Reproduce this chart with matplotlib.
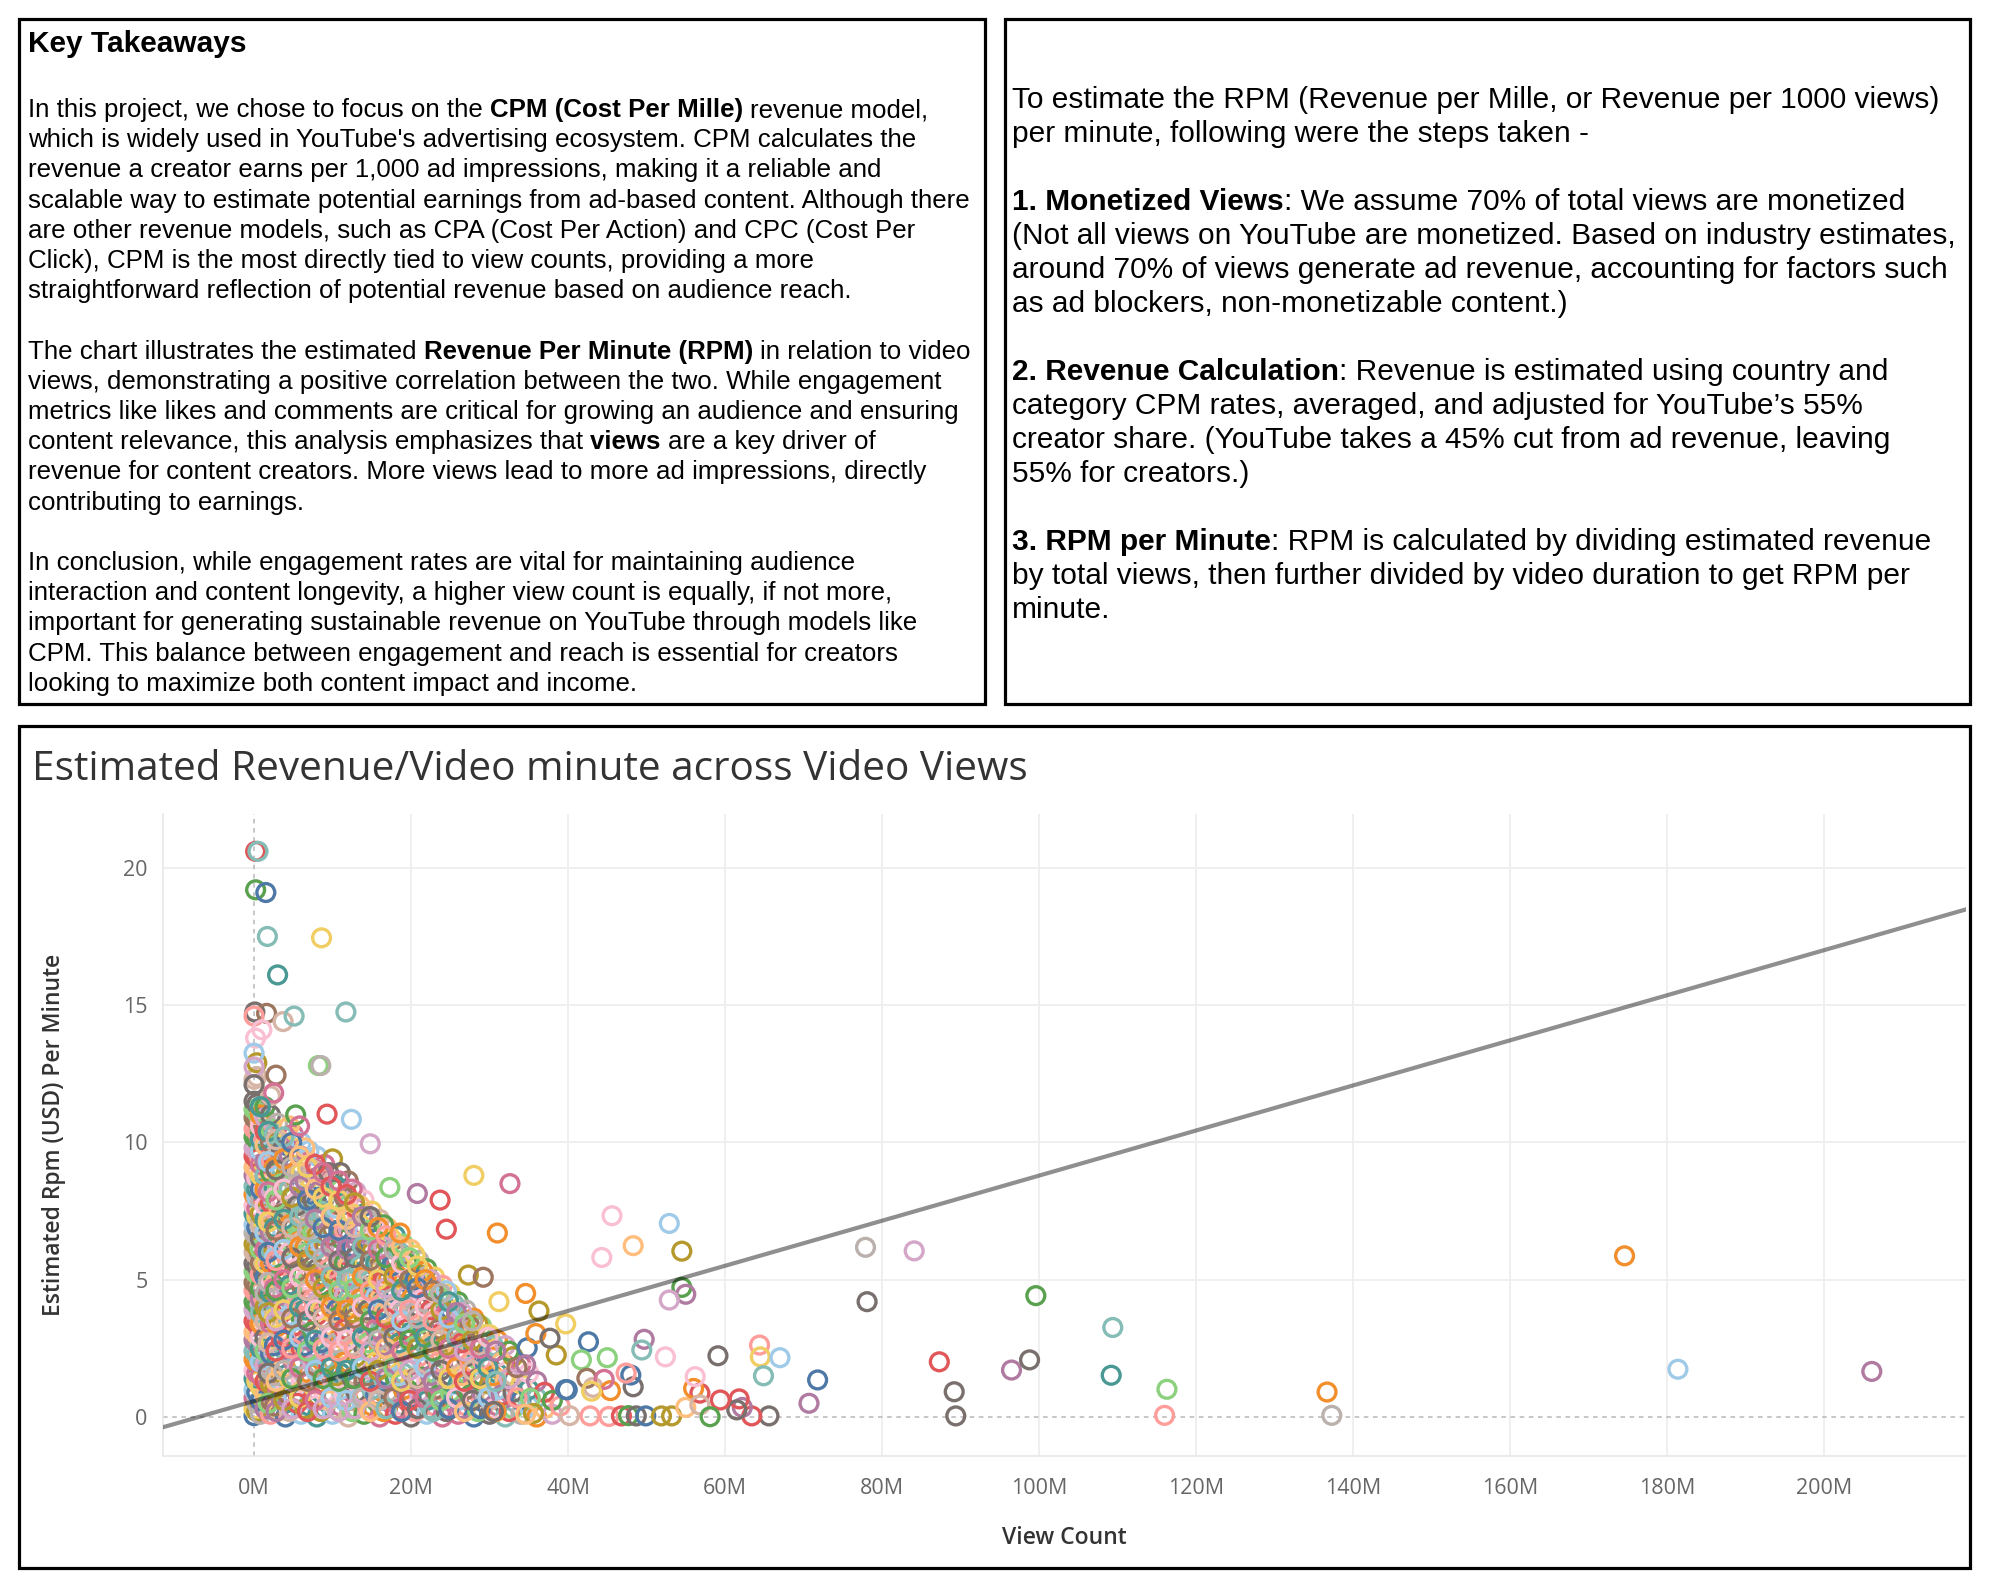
import matplotlib
matplotlib.use('Agg')
import matplotlib.pyplot as plt
from matplotlib.font_manager import FontProperties
from matplotlib.patches import Rectangle
from matplotlib.ticker import FuncFormatter

# ---- data (views in millions, estimated RPM per minute in USD) ----
# dense cluster, read column by column
col_views_m = [0.0, 0.35, 0.8, 1.4, 2.1, 3.0, 4.0, 5.0, 6.0, 7.0, 8.0, 9.0, 10.0,
               11.0, 12.0, 13.0, 14.0, 15.0, 16.0, 17.0, 18.0, 19.0, 20.0, 21.0,
               22.0, 23.0, 24.0, 25.0, 26.0, 27.0, 28.0, 29.0, 30.0, 31.0, 32.0,
               33.0, 34.0, 35.0, 36.0, 37.0, 38.0, 39.0]
col_rpm = [
    [0.05, 0.3, 0.7, 1.0, 1.4, 1.7, 2.1, 2.4, 2.8, 3.1, 3.5, 3.9, 4.2, 4.6, 4.9, 5.3, 5.6, 6.0,
     6.3, 6.7, 7.0, 7.4, 7.7, 8.1, 8.4, 8.8, 9.1, 9.5, 9.8, 10.2, 10.5, 10.9, 11.2, 11.5, 12.3],
    [0.2, 0.5, 0.9, 1.3, 1.6, 2.0, 2.3, 2.7, 3.0, 3.4, 3.8, 4.1, 4.5, 4.8, 5.2, 5.5, 5.9, 6.2,
     6.6, 6.9, 7.3, 7.6, 8.0, 8.3, 8.7, 9.0, 9.4, 9.7, 10.1, 10.4, 10.8, 11.1, 11.4, 12.4, 12.9],
    [0.1, 0.6, 1.1, 1.5, 2.0, 2.5, 2.9, 3.4, 3.8, 4.3, 4.7, 5.2, 5.6, 6.1, 6.5, 7.0, 7.4, 7.9,
     8.3, 8.8, 9.2, 9.7, 10.1, 10.6, 11.0, 11.3],
    [0.3, 0.8, 1.3, 1.9, 2.4, 2.9, 3.5, 4.0, 4.5, 5.1, 5.6, 6.1, 6.7, 7.2, 7.7, 8.3, 8.8, 9.3,
     9.9, 10.4, 10.9, 11.3],
    [0.1, 0.6, 1.2, 1.7, 2.3, 2.8, 3.4, 3.9, 4.5, 5.0, 5.6, 6.1, 6.7, 7.2, 7.8, 8.3, 8.9, 9.4,
     10.0, 10.5, 11.0, 11.7],
    [0.2, 0.9, 1.4, 2.1, 2.6, 3.3, 3.8, 4.4, 5.0, 5.5, 6.2, 6.7, 7.3, 7.9, 8.4, 9.0, 9.6, 10.1, 10.7],
    [0.0, 0.5, 1.2, 1.8, 2.4, 3.0, 3.5, 4.2, 4.7, 5.3, 5.9, 6.5, 7.1, 7.6, 8.2, 8.8, 9.3, 9.9, 10.5],
    [0.3, 0.8, 1.5, 2.0, 2.7, 3.3, 3.9, 4.4, 5.1, 5.7, 6.2, 6.9, 7.4, 8.0, 8.6, 9.1, 9.8, 10.3],
    [0.1, 0.7, 1.3, 1.9, 2.5, 3.1, 3.6, 4.3, 4.8, 5.4, 6.0, 6.6, 7.2, 7.7, 8.4, 8.9, 9.5, 10.0],
    [0.4, 1.0, 1.6, 2.2, 2.8, 3.4, 4.0, 4.6, 5.2, 5.8, 6.4, 6.9, 7.6, 8.1, 8.7, 9.3, 9.7],
    [0.0, 0.6, 1.2, 1.8, 2.5, 3.0, 3.7, 4.2, 4.9, 5.4, 6.1, 6.6, 7.3, 7.8, 8.5, 9.0, 9.5],
    [0.3, 0.9, 1.5, 2.1, 2.7, 3.3, 3.9, 4.5, 5.1, 5.7, 6.3, 6.9, 7.5, 8.1, 8.7, 9.2],
    [0.1, 0.7, 1.3, 1.9, 2.6, 3.1, 3.8, 4.3, 5.0, 5.5, 6.1, 6.8, 7.3, 7.9, 8.6, 9.4],
    [0.4, 1.0, 1.6, 2.3, 2.9, 3.5, 4.1, 4.7, 5.3, 6.0, 6.5, 7.2, 7.7, 8.3, 8.9],
    [0.0, 0.6, 1.2, 1.8, 2.4, 3.1, 3.6, 4.3, 4.9, 5.5, 6.1, 6.7, 7.3, 7.9, 8.6],
    [0.3, 0.9, 1.5, 2.2, 2.8, 3.4, 4.0, 4.6, 5.2, 5.9, 6.4, 7.0, 7.6, 8.2],
    [0.1, 0.7, 1.3, 1.9, 2.5, 3.2, 3.7, 4.4, 5.0, 5.6, 6.2, 6.8, 7.4, 7.9],
    [0.4, 1.0, 1.7, 2.3, 2.9, 3.5, 4.1, 4.8, 5.3, 6.0, 6.6, 7.1, 7.5],
    [0.0, 0.6, 1.2, 1.9, 2.5, 3.1, 3.7, 4.3, 4.9, 5.5, 6.1, 6.8, 7.2],
    [0.3, 0.9, 1.5, 2.1, 2.8, 3.4, 4.0, 4.6, 5.2, 5.8, 6.4, 6.9],
    [0.1, 0.7, 1.4, 2.0, 2.6, 3.2, 3.8, 4.5, 5.0, 5.7, 6.2, 6.6],
    [0.4, 1.0, 1.6, 2.3, 2.9, 3.5, 4.1, 4.7, 5.4, 5.9, 6.3],
    [0.0, 0.7, 1.3, 1.9, 2.5, 3.1, 3.8, 4.3, 5.0, 5.5, 6.1],
    [0.3, 0.9, 1.5, 2.2, 2.8, 3.4, 4.0, 4.6, 5.2, 5.7],
    [0.1, 0.6, 1.3, 1.9, 2.5, 3.1, 3.7, 4.3, 4.9, 5.4],
    [0.4, 1.0, 1.6, 2.2, 2.8, 3.4, 4.0, 4.7, 5.1],
    [0.0, 0.7, 1.3, 1.9, 2.5, 3.1, 3.7, 4.3, 4.8],
    [0.3, 0.9, 1.5, 2.1, 2.7, 3.3, 3.9, 4.5],
    [0.1, 0.6, 1.2, 1.8, 2.4, 3.0, 3.6, 4.2],
    [0.4, 1.0, 1.6, 2.2, 2.8, 3.5, 3.9],
    [0.0, 0.7, 1.3, 1.9, 2.5, 3.1, 3.6],
    [0.3, 0.9, 1.5, 2.1, 2.7, 3.3],
    [0.1, 0.6, 1.2, 1.8, 2.5, 3.0],
    [0.4, 1.0, 1.6, 2.2, 2.8],
    [0.0, 0.7, 1.3, 1.9, 2.6],
    [0.3, 0.9, 1.5, 2.2],
    [0.1, 0.6, 1.2, 1.9],
    [0.4, 1.0, 1.6],
    [0.0, 0.7, 1.3],
    [0.3, 0.9],
    [0.1, 0.6],
    [0.4],
]
# in-between columns of the same cluster
mid_views_m = [2.6, 3.5, 4.5, 5.5, 6.5, 7.5, 8.5, 9.5, 10.5, 11.5, 12.5, 13.5, 14.5, 15.5,
               16.5, 17.5, 18.5, 19.5, 20.5, 21.5, 22.5, 23.5, 24.5, 25.5, 26.5, 27.5,
               28.5, 29.5, 30.5, 31.5, 32.5, 33.5]
mid_rpm = [
    [0.4, 1.0, 1.5, 2.6, 3.6, 4.7, 5.8, 6.9, 8.0, 9.1, 10.3],
    [0.6, 1.7, 2.8, 3.9, 5.2, 6.3, 7.4, 8.5, 9.7],
    [0.2, 1.4, 2.5, 3.7, 4.8, 6.0, 7.0, 8.3, 9.5, 10.6],
    [0.5, 1.8, 2.9, 4.1, 5.3, 6.5, 7.7, 8.9],
    [0.3, 1.5, 2.6, 3.9, 5.0, 6.2, 7.4, 8.6, 9.8],
    [0.7, 1.9, 3.1, 4.3, 5.5, 6.7, 7.9, 9.0],
    [0.2, 1.4, 2.7, 3.9, 5.1, 6.3, 7.5, 8.8],
    [0.6, 1.8, 3.0, 4.2, 5.4, 6.6, 7.8, 8.9],
    [0.3, 1.5, 2.7, 3.9, 5.1, 6.3, 7.6, 8.4],
    [0.8, 2.0, 3.2, 4.4, 5.6, 6.8, 8.0],
    [0.2, 1.4, 2.6, 3.8, 5.0, 6.2, 7.4, 8.3],
    [0.7, 1.9, 3.1, 4.3, 5.5, 6.7, 7.7],
    [0.3, 1.5, 2.7, 3.9, 5.1, 6.3, 7.2],
    [0.8, 2.0, 3.2, 4.4, 5.6, 6.9],
    [0.2, 1.4, 2.6, 3.8, 5.0, 6.2, 7.0],
    [0.7, 1.9, 3.1, 4.3, 5.5, 6.5],
    [0.3, 1.5, 2.7, 3.9, 5.1, 6.0],
    [0.8, 2.0, 3.2, 4.4, 5.6],
    [0.2, 1.4, 2.6, 3.8, 5.0, 5.9],
    [0.7, 1.9, 3.1, 4.3, 5.3],
    [0.3, 1.5, 2.7, 3.9, 5.0],
    [0.8, 2.0, 3.2, 4.4],
    [0.2, 1.4, 2.6, 3.8, 4.6],
    [0.7, 1.9, 3.1, 4.1],
    [0.3, 1.5, 2.7, 3.8],
    [0.8, 2.0, 3.3],
    [0.2, 1.4, 2.6, 3.4],
    [0.7, 1.9, 3.0],
    [0.3, 1.5, 2.6],
    [0.8, 2.0],
    [0.2, 1.4, 2.4],
    [0.7, 1.8],
]
# third layer of the cluster, offset between the others
fill_views_m = [1.8, 2.8, 3.8, 4.8, 5.8, 6.8, 7.8, 8.8, 9.8, 10.8, 11.8, 12.8, 13.8, 14.8,
                15.8, 16.8, 17.8, 18.8, 19.8, 20.8, 21.8, 22.8, 23.8, 24.8, 25.8, 26.8,
                27.8, 28.8, 29.8, 30.8]
fill_rpm = [
    [0.5, 1.6, 2.7, 3.8, 4.9, 6.0, 7.1, 8.2, 9.3, 10.4],
    [0.2, 1.3, 2.4, 3.5, 4.6, 5.7, 6.8, 7.9, 9.0, 10.1],
    [0.6, 1.7, 2.8, 3.9, 5.0, 6.1, 7.2, 8.3, 9.4, 10.2],
    [0.3, 1.4, 2.5, 3.6, 4.7, 5.8, 6.9, 8.0, 9.1, 10.0],
    [0.7, 1.8, 2.9, 4.0, 5.1, 6.2, 7.3, 8.4, 9.5],
    [0.2, 1.3, 2.4, 3.5, 4.6, 5.7, 6.8, 7.9, 9.1],
    [0.6, 1.7, 2.8, 3.9, 5.0, 6.1, 7.2, 8.3, 9.2],
    [0.3, 1.4, 2.5, 3.6, 4.7, 5.8, 6.9, 8.0, 8.9],
    [0.7, 1.8, 2.9, 4.0, 5.1, 6.2, 7.3, 8.4],
    [0.2, 1.3, 2.4, 3.5, 4.6, 5.7, 6.8, 7.9, 8.6],
    [0.6, 1.7, 2.8, 3.9, 5.0, 6.1, 7.2, 8.1],
    [0.3, 1.4, 2.5, 3.6, 4.7, 5.8, 6.9, 7.8],
    [0.7, 1.8, 2.9, 4.0, 5.1, 6.2, 7.3],
    [0.2, 1.3, 2.4, 3.5, 4.6, 5.7, 6.8, 7.3],
    [0.6, 1.7, 2.8, 3.9, 5.0, 6.1, 6.9],
    [0.3, 1.4, 2.5, 3.6, 4.7, 5.8, 6.6],
    [0.7, 1.8, 2.9, 4.0, 5.1, 6.1],
    [0.2, 1.3, 2.4, 3.5, 4.6, 5.6, 6.2],
    [0.6, 1.7, 2.8, 3.9, 5.0, 5.8],
    [0.3, 1.4, 2.5, 3.6, 4.7, 5.5],
    [0.7, 1.8, 2.9, 4.0, 5.0],
    [0.2, 1.3, 2.4, 3.5, 4.6],
    [0.6, 1.7, 2.8, 3.9, 4.5],
    [0.3, 1.4, 2.5, 3.6, 4.2],
    [0.7, 1.8, 2.9, 3.8],
    [0.2, 1.3, 2.4, 3.4],
    [0.6, 1.7, 2.8, 3.5],
    [0.3, 1.4, 2.5],
    [0.7, 1.8, 2.9],
    [0.2, 1.3, 2.4],
]

# individually visible points
views_m = [0.2, 0.5, 0.2, 1.5, 1.7, 8.6, 3.0, 0.1, 1.6, 0.0, 3.7, 5.1, 11.7, 1.0, 0.2, 0.0,
           0.0, 8.2, 8.5, 2.8, 0.0, 2.5, 0.8, 5.3, 9.3, 12.4, 5.8, 14.8, 28.0, 32.6, 17.3,
           20.8, 23.7, 24.5, 31.0, 18.6, 45.6, 44.3, 27.3, 29.2, 34.6, 31.2, 36.3, 39.7,
           42.6, 45.0, 41.7, 38.5, 34.8, 35.9, 37.7, 34.6, 39.7, 42.4, 43.2, 35.2, 35.6,
           34.6, 30.5, 40.2, 42.8, 45.2, 46.8, 47.7, 48.7, 49.9, 51.9, 53.2, 55.0, 52.9,
           48.3, 54.5, 54.5, 55.0, 52.9, 77.9, 84.1, 78.1, 99.6, 49.7, 49.4, 52.4, 59.1,
           64.4, 64.5, 67.0, 64.9, 71.8, 70.7, 65.6, 63.4, 62.2, 61.8, 61.5, 59.4, 56.8,
           56.0, 56.2, 56.8, 58.1, 48.3, 48.0, 47.4, 45.4, 44.6, 43.0, 39.9, 87.3, 89.2,
           89.4, 96.5, 98.8, 174.6, 109.4, 109.2, 116.3, 116.0, 136.7, 137.3, 181.4, 206.1]
rpm = [20.6, 20.6, 19.2, 19.1, 17.5, 17.45, 16.1, 14.75, 14.7, 14.6, 14.4, 14.6, 14.75, 14.1,
       13.8, 13.25, 12.75, 12.8, 12.8, 12.45, 12.1, 11.8, 11.3, 11.0, 11.03, 10.84, 10.6,
       9.95, 8.8, 8.5, 8.36, 8.14, 7.9, 6.84, 6.7, 6.7, 7.33, 5.81, 5.17, 5.09, 4.5, 4.2,
       3.86, 3.39, 2.74, 2.16, 2.08, 2.26, 2.52, 3.04, 2.87, 1.9, 1.0, 1.41, 1.08, 0.68,
       0.13, 0.1, 0.2, 0.05, 0.04, 0.02, 0.04, 0.05, 0.04, 0.04, 0.04, 0.04, 0.35, 7.05,
       6.24, 6.04, 4.72, 4.47, 4.26, 6.18, 6.05, 4.2, 4.42, 2.83, 2.44, 2.19, 2.23, 2.62,
       2.19, 2.16, 1.5, 1.35, 0.5, 0.04, 0.04, 0.35, 0.66, 0.26, 0.62, 0.87, 1.04, 1.47,
       0.44, 0.01, 1.1, 1.53, 1.6, 0.96, 1.37, 0.94, 0.99, 2.01, 0.92, 0.04, 1.71, 2.08,
       5.87, 3.26, 1.52, 1.01, 0.06, 0.91, 0.06, 1.74, 1.66]
point_colors = ['red', 'lteal', 'green', 'blue', 'lteal', 'yellow', 'teal', 'gray', 'brown',
                'salmon', 'tan', 'lteal', 'lteal', 'lpink', 'lpink', 'lblue', 'lpurple',
                'lgreen', 'lgray', 'brown', 'gray', 'pink', 'teal', 'green', 'red', 'lblue',
                'pink', 'lpurple', 'yellow', 'pink', 'lgreen', 'purple', 'red', 'red',
                'orange', 'orange', 'lpink', 'lpink', 'olive', 'brown', 'orange', 'yellow',
                'olive', 'yellow', 'blue', 'lgreen', 'lgreen', 'olive', 'blue', 'orange',
                'gray', 'purple', 'blue', 'brown', 'tan', 'lgreen', 'olive', 'lorange',
                'gray', 'tan', 'salmon', 'salmon', 'red', 'green', 'gray', 'blue', 'olive',
                'olive', 'lorange', 'lblue', 'lorange', 'olive', 'green', 'purple',
                'lpurple', 'lgray', 'lpurple', 'gray', 'green', 'purple', 'lteal', 'lpink',
                'gray', 'salmon', 'yellow', 'lblue', 'lteal', 'blue', 'purple', 'gray',
                'red', 'purple', 'red', 'gray', 'red', 'red', 'orange', 'lpink', 'tan',
                'green', 'gray', 'blue', 'salmon', 'orange', 'pink', 'yellow', 'blue', 'red',
                'gray', 'gray', 'purple', 'gray', 'orange', 'lteal', 'teal', 'lgreen',
                'salmon', 'orange', 'lgray', 'lblue', 'purple']

# linear trend (RPM per million views)
trend_intercept = 0.58
trend_slope = 0.0821

x_ticks = [0, 20, 40, 60, 80, 100, 120, 140, 160, 180, 200]
y_ticks = [0, 5, 10, 15, 20]

palette = {
    'blue': '#4E79A7', 'lblue': '#A0CBE8', 'orange': '#F28E2B', 'lorange': '#FFBE7D',
    'green': '#59A14F', 'lgreen': '#8CD17D', 'olive': '#B6992D', 'yellow': '#F1CE63',
    'teal': '#499894', 'lteal': '#86BCB6', 'red': '#E15759', 'salmon': '#FF9D9A',
    'gray': '#79706E', 'lgray': '#BAB0AC', 'pink': '#D37295', 'lpink': '#FABFD2',
    'purple': '#B07AA1', 'lpurple': '#D4A6C8', 'brown': '#9D7660', 'tan': '#D7B5A6',
}
palette_list = list(palette.values())

left_lines = [
    [("In this project, we chose to focus on the ", False), ("CPM (Cost Per Mille) ", True),
     ("revenue model,", False)],
    [("which is widely used in YouTube's advertising ecosystem. CPM calculates the", False)],
    [("revenue a creator earns per 1,000 ad impressions, making it a reliable and", False)],
    [("scalable way to estimate potential earnings from ad-based content. Although there", False)],
    [("are other revenue models, such as CPA (Cost Per Action) and CPC (Cost Per", False)],
    [("Click), CPM is the most directly tied to view counts, providing a more", False)],
    [("straightforward reflection of potential revenue based on audience reach.", False)],
    [],
    [("The chart illustrates the estimated ", False), ("Revenue Per Minute (RPM) ", True),
     ("in relation to video", False)],
    [("views, demonstrating a positive correlation between the two. While engagement", False)],
    [("metrics like likes and comments are critical for growing an audience and ensuring", False)],
    [("content relevance, this analysis emphasizes that ", False), ("views ", True),
     ("are a key driver of", False)],
    [("revenue for content creators. More views lead to more ad impressions, directly", False)],
    [("contributing to earnings.", False)],
    [],
    [("In conclusion, while engagement rates are vital for maintaining audience", False)],
    [("interaction and content longevity, a higher view count is equally, if not more,", False)],
    [("important for generating sustainable revenue on YouTube through models like", False)],
    [("CPM. This balance between engagement and reach is essential for creators", False)],
    [("looking to maximize both content impact and income.", False)],
]

right_lines = [
    [("To estimate the RPM (Revenue per Mille, or Revenue per 1000 views)", False)],
    [("per minute, following were the steps taken -", False)],
    [],
    [("1. Monetized Views", True), (": We assume 70% of total views are monetized", False)],
    [("(Not all views on YouTube are monetized. Based on industry estimates,", False)],
    [("around 70% of views generate ad revenue, accounting for factors such", False)],
    [("as ad blockers, non-monetizable content.)", False)],
    [],
    [("2. Revenue Calculation", True), (": Revenue is estimated using country and", False)],
    [("category CPM rates, averaged, and adjusted for YouTube\u2019s 55%", False)],
    [("creator share. (YouTube takes a 45% cut from ad revenue, leaving", False)],
    [("55% for creators.)", False)],
    [],
    [("3. RPM per Minute", True), (": RPM is calculated by dividing estimated revenue", False)],
    [("by total views, then further divided by video duration to get RPM per", False)],
    [("minute.", False)],
]

# ---- figure ----
W, H = 1990, 1592
plt.rcParams['font.family'] = ['Open Sans', 'DejaVu Sans']
fig = plt.figure(figsize=(W / 100, H / 100), dpi=100)
renderer = fig.canvas.get_renderer()


def fx(px):
    return px / W


def fy(py):
    return 1 - py / H


def seg_width(txt, prop):
    w1 = renderer.get_text_width_height_descent('|' + txt + '|', prop, ismath=False)[0]
    w0 = renderer.get_text_width_height_descent('||', prop, ismath=False)[0]
    return w1 - w0


def write_line(x_px, y_px, segments, size):
    for txt, bold in segments:
        prop = FontProperties(family='Liberation Sans', size=size,
                              weight='bold' if bold else 'normal')
        fig.text(fx(x_px), fy(y_px), txt, fontproperties=prop, va='baseline', ha='left',
                 color='black')
        x_px += seg_width(txt, prop)


def frame(x0, y0, x1, y1):
    fig.add_artist(Rectangle((fx(x0), fy(y1)), (x1 - x0) / W, (y1 - y0) / H,
                             transform=fig.transFigure, fill=False, lw=2.3, ec='black'))


frame(19, 19, 985, 704)
frame(1005, 19, 1970, 704)
frame(19, 726, 1970, 1568)

# left text panel
write_line(28, 52.5, [("Key Takeaways", True)], 21.5)
for k, segs in enumerate(left_lines):
    if segs:
        write_line(28, 107.8 + 30.2 * k + 9.3, segs, 18.6)

# right text panel
for k, segs in enumerate(right_lines):
    if segs:
        write_line(1012, 97.2 + 34.04 * k + 10.3, segs, 21.5)

# chart title
fig.text(fx(32), fy(780), "Estimated Revenue/Video minute across Video Views",
         fontsize=29.2, color='#333333', va='baseline', ha='left')

ax = fig.add_axes([fx(163), fy(1456), (1966 - 163) / W, (1456 - 814) / H])

# flatten the cluster columns
cluster_x = []
cluster_y = []
for xs, yss in [(col_views_m, col_rpm), (mid_views_m, mid_rpm), (fill_views_m, fill_rpm)]:
    for xv, ys in zip(xs, yss):
        for yv in ys:
            cluster_x.append(xv)
            cluster_y.append(yv)
cluster_colors = [palette_list[(i * 7 + i // 20) % 20] for i in range(len(cluster_x))]

ax.scatter(cluster_x, cluster_y, s=165, facecolors='none', edgecolors=cluster_colors,
           linewidths=2.4, alpha=1.0, zorder=3)
ax.scatter(views_m, rpm, s=165, facecolors='none',
           edgecolors=[palette[c] for c in point_colors],
           linewidths=2.4, alpha=1.0, zorder=4)

ax.axline((0, trend_intercept), slope=trend_slope, color='black', alpha=0.44, lw=3.0,
          zorder=5)

for v in x_ticks[1:]:
    ax.axvline(v, color='#eeeeee', lw=1.3, zorder=0)
for v in y_ticks[1:]:
    ax.axhline(v, color='#eeeeee', lw=1.3, zorder=0)
ax.axhline(0, color='#b8b8b8', lw=1.1, ls=(0, (3, 3)), zorder=1)
ax.axvline(0, color='#b8b8b8', lw=1.1, ls=(0, (3, 3)), zorder=1)

ax.set_xlim(-11.6, 218.1)
ax.set_ylim(-1.42, 21.96)
ax.set_xticks(x_ticks)
ax.set_yticks(y_ticks)
ax.xaxis.set_major_formatter(FuncFormatter(lambda v, p: f"{v:.0f}M"))
ax.tick_params(axis='both', length=0, labelsize=15.5, labelcolor='#666666')
ax.tick_params(axis='x', pad=16)
ax.tick_params(axis='y', pad=11)

for side in ['top', 'right']:
    ax.spines[side].set_visible(False)
for side in ['left', 'bottom']:
    ax.spines[side].set_color('#e8e8e8')
    ax.spines[side].set_linewidth(1.2)

ax.set_xlabel("View Count", fontsize=16.5, color='#333333', fontweight='semibold')
ax.set_ylabel("Estimated Rpm (USD) Per Minute", fontsize=16.5, color='#333333',
              fontweight='semibold')
ax.xaxis.label.set_va('center')
ax.yaxis.label.set_va('center')
ax.xaxis.set_label_coords(0.5, -0.128)
ax.yaxis.set_label_coords(-0.0605, 0.5)

fig.savefig('out.png', dpi=100)
